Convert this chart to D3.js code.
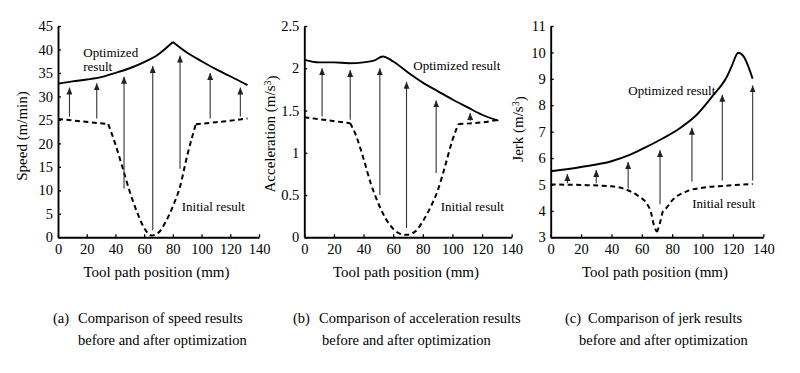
<!DOCTYPE html>
<html>
<head>
<meta charset="utf-8">
<script src="https://cdn.jsdelivr.net/npm/d3@7"></script>
<style>
  body { margin: 0; background: #fff; }
  text { font-family: "Liberation Serif", "Times New Roman", serif; fill: #000; }
</style>
</head>
<body>
<div id="viz"></div>
<script>
// ---- data ----
var xTicks = [0, 20, 40, 60, 80, 100, 120, 140];

// (a) speed
var speedOptX = [0, 10, 20, 30, 40, 50, 60, 70, 80, 90, 100, 110, 120, 132];
var speedOpt  = [32.7, 33.2, 33.6, 34.1, 35.0, 36.0, 37.3, 39.0, 41.6, 39.3, 37.5, 35.8, 34.3, 32.4];
var speedOptCorners = [80];
var speedIniX = [0, 35, 40, 45, 50, 55, 60, 65, 70, 75, 80, 85, 90, 96, 110, 132];
var speedIni  = [25.2, 24.1, 19.8, 14.8, 9.7, 5.4, 2.0, 0.4, 1.0, 3.3, 6.6, 10.8, 17.4, 24.1, 24.5, 25.3];
var speedIniCorners = [35, 96];
var speedArrowX    = [8, 27, 46, 66, 85, 106, 127];
var speedArrowFrom = [25.7, 25.3, 10.4, 1.5, 14.6, 25.3, 25.7];
var speedArrowTo   = [31.9, 32.8, 34.2, 36.5, 38.7, 35.0, 31.9];

// (b) acceleration
var accOptX = [0, 10, 20, 30, 40, 47, 53, 60, 70, 80, 90, 100, 110, 120, 131];
var accOpt  = [2.10, 2.07, 2.07, 2.06, 2.07, 2.09, 2.14, 2.08, 1.95, 1.83, 1.73, 1.63, 1.54, 1.45, 1.38];
var accIniX = [0, 31, 35, 40, 45, 50, 55, 60, 65, 69, 75, 80, 85, 90, 95, 100, 104, 120, 131];
var accIni  = [1.42, 1.35, 1.20, 0.93, 0.63, 0.40, 0.22, 0.10, 0.04, 0.03, 0.07, 0.19, 0.35, 0.55, 0.84, 1.15, 1.34, 1.36, 1.39];
var accIniCorners = [31, 104];
var accArrowX    = [12, 31, 51, 69, 89, 112];
var accArrowFrom = [1.43, 1.39, 0.50, 0.11, 0.76, 1.38];
var accArrowTo   = [2.00, 1.98, 2.00, 1.84, 1.62, 1.47];

// (c) jerk
var jerkOptX = [0, 20, 40, 52, 63, 74, 85, 96, 107, 116, 119, 123.5, 127, 133];
var jerkOpt  = [5.5, 5.66, 5.88, 6.12, 6.42, 6.75, 7.13, 7.63, 8.38, 9.08, 9.45, 9.99, 9.85, 9.0];
var jerkIniX = [0, 20, 40, 50, 58, 63, 66, 68, 70, 72, 74, 76, 80, 90, 100, 115, 133];
var jerkIni  = [5.0, 4.98, 4.93, 4.8, 4.55, 4.3, 3.95, 3.45, 3.2, 3.55, 4.0, 4.1, 4.4, 4.75, 4.88, 4.95, 5.02];
var jerkIniCorners = [70];
var jerkArrowX    = [11, 30, 51, 72, 93, 113, 133];
var jerkArrowFrom = [5.05, 5.05, 4.85, 4.25, 5.1, 5.15, 5.15];
var jerkArrowTo   = [5.4, 5.55, 5.85, 6.3, 7.15, 8.4, 8.75];

var panels = [
  { left: 58, right: 259, yDomain: [0, 45], yTicks: d3.range(0, 46, 5),
    yTitle: ['Speed (m/min)', ''], yTitleX: 22, yTitleY: 136,
    optX: speedOptX, opt: speedOpt, optCorners: speedOptCorners,
    iniX: speedIniX, ini: speedIni, iniCorners: speedIniCorners,
    arrX: speedArrowX, arrFrom: speedArrowFrom, arrTo: speedArrowTo,
    labels: [['Optimized', 17.6, 38.4], ['result', 17.6, 35.4], ['Initial result', 86.2, 5.5]],
    cap: ['(a)', 'Comparison of speed results', 'before and after optimization'], capX: [53, 78, 78] },
  { left: 304.3, right: 511.7, yDomain: [0, 2.5], yTicks: [0, 0.5, 1, 1.5, 2, 2.5],
    yTitle: ['Acceleration (m/s', '3', ')'], yTitleX: 270, yTitleY: 134,
    optX: accOptX, opt: accOpt, optCorners: [],
    iniX: accIniX, ini: accIni, iniCorners: accIniCorners,
    arrX: accArrowX, arrFrom: accArrowFrom, arrTo: accArrowTo,
    labels: [['Optimized result', 73.6, 1.98], ['Initial result', 92.1, 0.315]],
    cap: ['(b)', 'Comparison of acceleration results', 'before and after optimization'], capX: [293, 319, 322] },
  { left: 550.7, right: 763.3, yDomain: [3, 11], yTicks: d3.range(3, 12, 1),
    yTitle: ['Jerk (m/s', '3', ')'], yTitleX: 518, yTitleY: 129,
    optX: jerkOptX, opt: jerkOpt, optCorners: [],
    iniX: jerkIniX, ini: jerkIni, iniCorners: jerkIniCorners,
    arrX: jerkArrowX, arrFrom: jerkArrowFrom, arrTo: jerkArrowTo,
    labels: [['Optimized result', 51.1, 8.39], ['Initial result', 93.2, 4.1]],
    cap: ['(c)', 'Comparison of jerk results', 'before and after optimization'], capX: [565, 588, 579] }
];

var w = 800, h = 373;
var plotTop = 26, plotBottom = 237.3;

var svg = d3.select('#viz').append('svg')
  .attr('width', w).attr('height', h);

svg.append('defs').append('marker')
  .attr('id', 'head')
  .attr('markerUnits', 'userSpaceOnUse')
  .attr('viewBox', '0 0 7 6')
  .attr('refX', 7).attr('refY', 3)
  .attr('markerWidth', 7).attr('markerHeight', 6)
  .attr('orient', 'auto')
  .append('path')
  .attr('d', 'M0,0 L7,3 L0,6 Z')
  .attr('fill', '#222');

// split a series at its corner points so the smooth curve keeps sharp bends there
function pieces(xs, ys, corners) {
  var out = [], cur = [];
  xs.forEach(function(x, i) {
    cur.push([x, ys[i]]);
    if (corners.indexOf(x) >= 0 && i > 0 && i < xs.length - 1) {
      out.push(cur);
      cur = [[x, ys[i]]];
    }
  });
  out.push(cur);
  return out;
}

panels.forEach(function(p) {
  var x = d3.scaleLinear().domain([0, 140]).range([p.left, p.right]);
  var y = d3.scaleLinear().domain(p.yDomain).range([plotBottom, plotTop]);
  var g = svg.append('g');

  var line = d3.line()
    .x(function(d) { return x(d[0]); })
    .y(function(d) { return y(d[1]); })
    .curve(d3.curveMonotoneX);

  // axes
  var xAxis = d3.axisBottom(x).tickValues(xTicks).tickSizeInner(-3).tickSizeOuter(0).tickPadding(6);
  var yAxis = d3.axisLeft(y).tickValues(p.yTicks).tickSizeInner(-3).tickSizeOuter(0).tickPadding(5)
    .tickFormat(function(d) { return String(d); });

  var gx = g.append('g').attr('transform', 'translate(0,' + plotBottom + ')').call(xAxis);
  var gy = g.append('g').attr('transform', 'translate(' + p.left + ',0)').call(yAxis);
  [gx, gy].forEach(function(a) {
    a.selectAll('path.domain').attr('stroke', '#000').attr('stroke-width', 1.9);
    a.selectAll('.tick line').attr('stroke', '#000').attr('stroke-width', 1.3);
    a.selectAll('.tick text').style('font-size', '14.5px').attr('fill', '#000')
      .style('font-family', '"Liberation Serif", "Times New Roman", serif');
  });

  // initial (dashed)
  pieces(p.iniX, p.ini, p.iniCorners).forEach(function(seg) {
    g.append('path').datum(seg)
      .attr('d', line)
      .attr('fill', 'none')
      .attr('stroke', '#000')
      .attr('stroke-width', 2)
      .attr('stroke-dasharray', '5,3.5');
  });

  // optimized (solid)
  pieces(p.optX, p.opt, p.optCorners).forEach(function(seg) {
    g.append('path').datum(seg)
      .attr('d', line)
      .attr('fill', 'none')
      .attr('stroke', '#000')
      .attr('stroke-width', 1.9);
  });

  // arrows
  g.selectAll('line.arrow')
    .data(p.arrX)
    .enter()
    .append('line')
    .attr('class', 'arrow')
    .attr('x1', function(d) { return x(d); })
    .attr('x2', function(d) { return x(d); })
    .attr('y1', function(d, i) { return y(p.arrFrom[i]); })
    .attr('y2', function(d, i) { return y(p.arrTo[i]); })
    .attr('stroke', '#333')
    .attr('stroke-width', 1.1)
    .attr('marker-end', 'url(#head)');

  // curve labels
  p.labels.forEach(function(l) {
    g.append('text')
      .attr('x', x(l[1]))
      .attr('y', y(l[2]))
      .style('font-size', '13px')
      .text(l[0]);
  });

  // axis titles
  g.append('text')
    .attr('x', (p.left + p.right) / 2 - 2)
    .attr('y', 277)
    .attr('text-anchor', 'middle')
    .style('font-size', '15px')
    .text('Tool path position (mm)');

  var yt = g.append('text')
    .attr('transform', 'translate(' + p.yTitleX + ',' + p.yTitleY + ') rotate(-90)')
    .attr('text-anchor', 'middle')
    .attr('dy', '0.35em')
    .style('font-size', '15px');
  yt.append('tspan').text(p.yTitle[0]);
  if (p.yTitle[1]) {
    yt.append('tspan').attr('dy', '-0.4em').style('font-size', '10px').text(p.yTitle[1]);
    yt.append('tspan').attr('dy', '0.4em').text(p.yTitle[2]);
  }

  // caption
  g.append('text').attr('x', p.capX[0]).attr('y', 323).style('font-size', '14.5px').text(p.cap[0]);
  g.append('text').attr('x', p.capX[1]).attr('y', 323).style('font-size', '14.5px').text(p.cap[1]);
  g.append('text').attr('x', p.capX[2]).attr('y', 345).style('font-size', '14.5px').text(p.cap[2]);
});
</script>
</body>
</html>
